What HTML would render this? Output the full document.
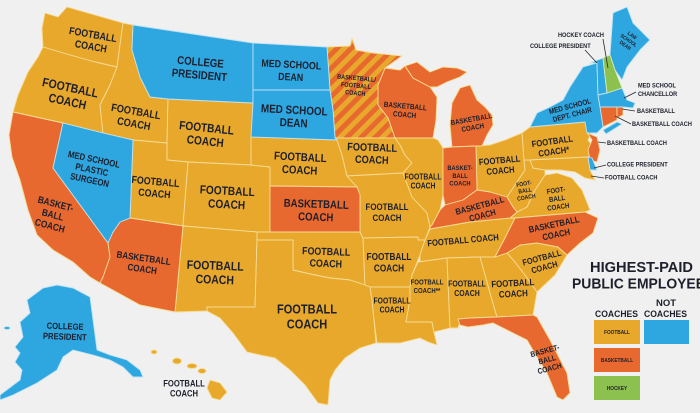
<!DOCTYPE html>
<html><head><meta charset="utf-8"><style>
html,body{margin:0;padding:0;background:#eff0ef;}
svg{display:block;}
text{font-family:"Liberation Sans",Arial,sans-serif;font-weight:bold;fill:#1d1f2c;}
</style></head><body>
<svg width="700" height="413" viewBox="0 0 700 413" xmlns="http://www.w3.org/2000/svg">
<defs>
<pattern id="st" width="10" height="10" patternUnits="userSpaceOnUse" patternTransform="rotate(45)">
<rect width="10" height="10" fill="#e8a82c"/><rect width="5" height="10" fill="#e8692f"/>
</pattern>
</defs>
<rect width="700" height="413" fill="#eff0ef"/>
<g stroke="#f6dc95" stroke-width="0.9" stroke-linejoin="round">
<!-- football yellow -->
<g fill="#e8a82c">
<polygon points="45,13 58,17 67,7 123,23 117,67 95,62 70,55 43,47 42,28"/>
<polygon points="43,47 70,55 95,62 117,67 110,85 100,105 103,133 63,123 13,112 18,95 28,72 38,57"/>
<polygon points="123,23 133,25 132,50 140,77 150,97 168,99 167,143 133,140 103,133 100,105 110,85 117,67"/>
<polygon points="168,99 253,103 251,165 188,162 167,160 167,143"/>
<polygon points="133,140 167,143 167,160 188,162 183,226 130,218"/>
<polygon points="188,162 251,165 270,167 270,186 270,232 257,232 183,226"/>
<polygon points="251,137 337,140 342,155 347,176 357,187 270,186 270,167 251,165"/>
<polygon points="183,226 257,232 257,240 255,307 207,307 207,311 175,312"/>
<polygon points="257,232 270,232 360,232 363,238 365,285 350,280 330,278 310,274 293,270 293,240 257,240"/>
<polygon points="257,240 293,240 293,270 310,274 330,278 350,280 365,285 370,287 372,300 374,320 376,343 360,348 345,358 335,370 330,380 328,405 318,403 305,385 290,370 275,358 260,355 247,352 233,333 220,318 207,311 207,307 255,307"/>
<polygon points="335,138 395,138 400,145 405,155 412,163 403,173 347,176 342,155 337,140"/>
<polygon points="347,176 403,173 412,197 427,213 430,227 425,240 418,240 418,237 363,238 360,232 360,195 357,187"/>
<polygon points="363,238 418,237 418,240 425,240 420,255 412,275 410,287 370,287 365,285"/>
<polygon points="370,287 410,287 410,300 406,322 432,322 434,332 437,345 428,342 420,338 400,343 377,343 374,320 372,300"/>
<polygon points="395,138 433,138 438,140 443,148 443,195 440,210 432,225 430,227 427,213 412,197 403,173 412,163 405,155 400,145"/>
<polygon points="476,146 490,145 505,140 522,133 524,160 525,170 515,185 507,197 490,192 477,190"/>
<polygon points="425,240 430,229 470,222 510,218 515,218 505,238 495,257 480,257 447,258 420,262 420,255"/>
<polygon points="418,262 447,258 450,328 434,332 432,322 406,322 410,300 410,287 412,275"/>
<polygon points="447,258 480,257 492,300 497,317 470,318 460,322 458,328 450,328"/>
<polygon points="480,257 495,257 507,253 515,262 525,275 537,292 533,315 497,317 492,300"/>
<polygon points="507,253 520,245 537,243 558,247 567,255 555,275 537,292 525,275 515,262"/>
<polygon points="510,218 517,212 527,207 535,190 545,175 557,173 572,178 582,190 590,210 585,212 515,218"/>
<polygon points="507,197 515,185 525,170 524,160 530,160 533,168 545,170 545,175 535,190 527,207 517,212 513,207"/>
<polygon points="522,133 530,127 585,122 592,132 588,140 595,150 588,157 530,160 524,160"/>
<polygon points="530,160 588,157 590,170 595,180 585,178 575,172 560,170 545,170 533,168"/>
<ellipse cx="154" cy="352" rx="3" ry="2"/>
<ellipse cx="177" cy="361" rx="4.5" ry="3"/>
<ellipse cx="192" cy="366" rx="5" ry="2.5"/>
<ellipse cx="202" cy="371" rx="4" ry="2.5"/>
<polygon points="210,380 220,383 227,392 220,400 212,398 207,388"/>
</g>
<!-- basketball orange -->
<g fill="#e8692f">
<polygon points="13,112 63,123 53,168 108,243 110,257 103,277 100,283 90,277 73,262 53,250 37,235 28,210 20,180 12,157 9,135"/>
<polygon points="130,218 183,226 175,312 140,305 100,283 103,277 110,257 108,243 113,232 120,222"/>
<polygon points="270,186 357,187 360,195 360,232 270,232"/>
<polygon points="385,68 400,70 405,66 413,78 430,87 437,97 436,120 433,138 395,138 388,118 378,105 378,85"/>
<polygon points="405,66 417,62 430,72 443,67 457,68 467,72 460,77 447,82 437,87 430,87 413,78"/>
<polygon points="452,103 460,88 470,85 477,100 485,107 492,115 493,125 487,135 482,146 476,146 452,147 450,125"/>
<polygon points="443,148 452,147 476,146 477,190 463,200 445,205 443,195"/>
<polygon points="430,227 432,225 440,210 445,205 463,200 477,190 490,192 507,197 513,207 517,212 510,218 470,222 430,229"/>
<polygon points="515,218 585,212 598,218 593,233 580,243 567,255 558,247 537,243 520,245 507,253 495,257 505,238"/>
<polygon points="458,319 470,318 497,317 533,315 537,317 550,340 567,373 570,393 563,400 557,397 547,373 537,357 527,340 513,333 493,323 483,325 468,327 460,325"/>
<polygon points="587,133 597,137 600,150 597,162 590,160 588,150 592,140 588,134"/>
<polygon points="600,107 617,107 617,120 603,127"/>
<polygon points="617,107 623,107 623,115 617,118"/>
</g>
<polygon fill="url(#st)" points="327,47 350,46 352,38 356,50 373,53 402,56 385,68 378,85 378,105 388,118 395,138 335,138 333,110 330,90"/>
<!-- blue -->
<g fill="#2ea6df" stroke="#bfe2f3">
<polygon points="133,25 253,43 253,103 168,99 150,97 140,77 132,50"/>
<polygon points="253,43 327,47 330,90 253,90"/>
<polygon points="253,90 330,90 333,110 335,138 337,140 251,137 253,103"/>
<polygon points="63,123 103,133 133,140 130,218 120,222 113,232 108,243 53,168"/>
<polygon points="530,127 537,113 550,107 563,100 570,87 583,67 597,63 598,95 600,107 603,127 597,133 587,133 585,122"/>
<polygon points="603,130 617,122 622,124 606,134"/>
<polygon points="590,63 603,58 607,93 598,95 597,63"/>
<polygon points="610,55 613,13 627,7 633,23 650,40 640,50 627,67 622,80 615,70"/>
<polygon points="598,95 607,93 622,88 627,100 635,103 633,108 623,107 600,107"/>
<polygon points="588,157 592,158 597,170 590,170"/>
<polygon points="27,300 43,288 57,285 73,288 90,297 97,350 110,355 127,360 140,370 143,377 133,377 123,367 110,360 93,355 73,350 63,357 57,370 37,383 13,395 0,400 0,395 20,380 22,370 15,362 20,353 15,347 23,337 20,322 30,313"/>
<ellipse cx="7" cy="328" rx="3" ry="1.5"/>
</g>
<polygon fill="#8cc04f" stroke="#d7ecc0" points="603,58 610,55 615,70 622,88 607,93"/>
</g>

<!-- state labels -->
<g transform="translate(92,40) rotate(10) scale(0.85,1)"><text font-size="10.4" text-anchor="middle"><tspan x="0" y="-2">FOOTBALL</tspan><tspan x="0" dy="12">COACH</tspan></text></g>
<g transform="translate(69,94) rotate(12) scale(0.85,1)"><text font-size="12.3" text-anchor="middle"><tspan x="0" y="-2.3">FOOTBALL</tspan><tspan x="0" dy="14">COACH</tspan></text></g>
<g transform="translate(200,68) rotate(5) scale(0.85,1)"><text font-size="11.4" text-anchor="middle"><tspan x="0" y="-2.2">COLLEGE</tspan><tspan x="0" dy="13">PRESIDENT</tspan></text></g>
<g transform="translate(291,70) rotate(3) scale(0.85,1)"><text font-size="10.4" text-anchor="middle"><tspan x="0" y="-2">MED SCHOOL</tspan><tspan x="0" dy="12.5">DEAN</tspan></text></g>
<g transform="translate(294,116) rotate(3) scale(0.85,1)"><text font-size="11.6" text-anchor="middle"><tspan x="0" y="-2.2">MED SCHOOL</tspan><tspan x="0" dy="13">DEAN</tspan></text></g>
<g transform="translate(135,117) rotate(10) scale(0.85,1)"><text font-size="10.8" text-anchor="middle"><tspan x="0" y="-2">FOOTBALL</tspan><tspan x="0" dy="12.4">COACH</tspan></text></g>
<g transform="translate(206,134) rotate(6) scale(0.85,1)"><text font-size="11.9" text-anchor="middle"><tspan x="0" y="-2.2">FOOTBALL</tspan><tspan x="0" dy="13.5">COACH</tspan></text></g>
<g transform="translate(92,169) rotate(12) scale(0.85,1)"><text font-size="9.2" text-anchor="middle"><tspan x="0" y="-6.8">MED SCHOOL</tspan><tspan x="0" dy="10.6">PLASTIC</tspan><tspan x="0" dy="10.6">SURGEON</tspan></text></g>
<g transform="translate(155,187) rotate(5) scale(0.85,1)"><text font-size="10.4" text-anchor="middle"><tspan x="0" y="-2">FOOTBALL</tspan><tspan x="0" dy="12">COACH</tspan></text></g>
<g transform="translate(227,197) rotate(3) scale(0.85,1)"><text font-size="11.9" text-anchor="middle"><tspan x="0" y="-2.2">FOOTBALL</tspan><tspan x="0" dy="13.5">COACH</tspan></text></g>
<g transform="translate(300,163) rotate(3) scale(0.85,1)"><text font-size="11.4" text-anchor="middle"><tspan x="0" y="-2.2">FOOTBALL</tspan><tspan x="0" dy="13">COACH</tspan></text></g>
<g transform="translate(316,210) rotate(2) scale(0.85,1)"><text font-size="11.3" text-anchor="middle"><tspan x="0" y="-2.2">BASKETBALL</tspan><tspan x="0" dy="13">COACH</tspan></text></g>
<g transform="translate(372,153) rotate(2) scale(0.85,1)"><text font-size="10.8" text-anchor="middle"><tspan x="0" y="-2">FOOTBALL</tspan><tspan x="0" dy="12.4">COACH</tspan></text></g>
<g transform="translate(387,212) scale(0.85,1)"><text font-size="9.3" text-anchor="middle"><tspan x="0" y="-1.8">FOOTBALL</tspan><tspan x="0" dy="10.7">COACH</tspan></text></g>
<g transform="translate(326,257) rotate(2) scale(0.85,1)"><text font-size="10.4" text-anchor="middle"><tspan x="0" y="-2">FOOTBALL</tspan><tspan x="0" dy="12">COACH</tspan></text></g>
<g transform="translate(389,262) scale(0.85,1)"><text font-size="9.7" text-anchor="middle"><tspan x="0" y="-1.8">FOOTBALL</tspan><tspan x="0" dy="11.2">COACH</tspan></text></g>
<g transform="translate(423,181) scale(0.85,1)"><text font-size="8" text-anchor="middle"><tspan x="0" y="-1.5">FOOTBALL</tspan><tspan x="0" dy="9.2">COACH</tspan></text></g>
<g transform="translate(460,175) scale(0.85,1)"><text font-size="6.8" text-anchor="middle"><tspan x="0" y="-5">BASKET-</tspan><tspan x="0" dy="7.8">BALL</tspan><tspan x="0" dy="7.8">COACH</tspan></text></g>
<g transform="translate(215,272) rotate(2) scale(0.85,1)"><text font-size="12.3" text-anchor="middle"><tspan x="0" y="-2.3">FOOTBALL</tspan><tspan x="0" dy="14">COACH</tspan></text></g>
<g transform="translate(307,316) scale(0.85,1)"><text font-size="13" text-anchor="middle"><tspan x="0" y="-2.5">FOOTBALL</tspan><tspan x="0" dy="15">COACH</tspan></text></g>
<g transform="translate(143,263) rotate(8) scale(0.85,1)"><text font-size="9.5" text-anchor="middle"><tspan x="0" y="-1.8">BASKETBALL</tspan><tspan x="0" dy="11">COACH</tspan></text></g>
<g transform="translate(53,214) rotate(15) scale(0.85,1)"><text font-size="9.8" text-anchor="middle"><tspan x="0" y="-7.2">BASKET-</tspan><tspan x="0" dy="11.3">BALL</tspan><tspan x="0" dy="11.3">COACH</tspan></text></g>
<g transform="translate(65,331) rotate(2) scale(0.85,1)"><text font-size="9" text-anchor="middle"><tspan x="0" y="-1.7">COLLEGE</tspan><tspan x="0" dy="10.4">PRESIDENT</tspan></text></g>
<g transform="translate(184,388) scale(0.85,1)"><text font-size="9" text-anchor="middle"><tspan x="0" y="-1.7">FOOTBALL</tspan><tspan x="0" dy="10.4">COACH</tspan></text></g>
<g transform="translate(392,305) scale(0.85,1)"><text font-size="8" text-anchor="middle"><tspan x="0" y="-1.5">FOOTBALL</tspan><tspan x="0" dy="9.2">COACH</tspan></text></g>
<g transform="translate(427,286) scale(0.85,1)"><text font-size="7.1" text-anchor="middle"><tspan x="0" y="-1.3">FOOTBALL</tspan><tspan x="0" dy="8.2">COACH**</tspan></text></g>
<g transform="translate(467,288) scale(0.85,1)"><text font-size="8.2" text-anchor="middle"><tspan x="0" y="-1.5">FOOTBALL</tspan><tspan x="0" dy="9.4">COACH</tspan></text></g>
<g transform="translate(513,288) rotate(-3) scale(0.85,1)"><text font-size="9.3" text-anchor="middle"><tspan x="0" y="-1.8">FOOTBALL</tspan><tspan x="0" dy="10.7">COACH</tspan></text></g>
<g transform="translate(543,262) rotate(-15) scale(0.85,1)"><text font-size="8.6" text-anchor="middle"><tspan x="0" y="-1.6">FOOTBALL</tspan><tspan x="0" dy="9.9">COACH</tspan></text></g>
<g transform="translate(555,229) rotate(-12) scale(0.85,1)"><text font-size="9" text-anchor="middle"><tspan x="0" y="-1.7">BASKETBALL</tspan><tspan x="0" dy="10.4">COACH</tspan></text></g>
<g transform="translate(463,240) rotate(-5) scale(0.85,1)"><text font-size="9" text-anchor="middle"><tspan x="0" y="3.2">FOOTBALL COACH</tspan></text></g>
<g transform="translate(481,210) rotate(-15) scale(0.85,1)"><text font-size="8.7" text-anchor="middle"><tspan x="0" y="-1.6">BASKETBALL</tspan><tspan x="0" dy="10">COACH</tspan></text></g>
<g transform="translate(500,165) rotate(-5) scale(0.85,1)"><text font-size="9" text-anchor="middle"><tspan x="0" y="-1.7">FOOTBALL</tspan><tspan x="0" dy="10.4">COACH</tspan></text></g>
<g transform="translate(553,146) rotate(-8) scale(0.85,1)"><text font-size="9" text-anchor="middle"><tspan x="0" y="-1.7">FOOTBALL</tspan><tspan x="0" dy="10.4">COACH*</tspan></text></g>
<g transform="translate(525,190) rotate(-10) scale(0.85,1)"><text font-size="6" text-anchor="middle"><tspan x="0" y="-4.4">FOOT-</tspan><tspan x="0" dy="6.9">BALL</tspan><tspan x="0" dy="6.9">COACH</tspan></text></g>
<g transform="translate(557,198) rotate(-8) scale(0.85,1)"><text font-size="7.2" text-anchor="middle"><tspan x="0" y="-5.3">FOOT-</tspan><tspan x="0" dy="8.3">BALL</tspan><tspan x="0" dy="8.3">COACH</tspan></text></g>
<g transform="translate(405,110) rotate(5) scale(0.85,1)"><text font-size="7.5" text-anchor="middle"><tspan x="0" y="-1.4">BASKETBALL</tspan><tspan x="0" dy="8.6">COACH</tspan></text></g>
<g transform="translate(472,123) rotate(-10) scale(0.85,1)"><text font-size="7.3" text-anchor="middle"><tspan x="0" y="-1.4">BASKETBALL</tspan><tspan x="0" dy="8.4">COACH</tspan></text></g>
<g transform="translate(356,85) rotate(5) scale(0.85,1)"><text font-size="6.5" text-anchor="middle"><tspan x="0" y="-4.8">BASKETBALL/</tspan><tspan x="0" dy="7.5">FOOTBALL</tspan><tspan x="0" dy="7.5">COACH</tspan></text></g>
<g transform="translate(571,110) rotate(-15) scale(0.85,1)"><text font-size="7.5" text-anchor="middle"><tspan x="0" y="-1.4">MED SCHOOL</tspan><tspan x="0" dy="8.6">DEPT. CHAIR</tspan></text></g>
<g transform="translate(547,359) rotate(-15) scale(0.85,1)"><text font-size="7.9" text-anchor="middle"><tspan x="0" y="-5.8">BASKET-</tspan><tspan x="0" dy="9.1">BALL</tspan><tspan x="0" dy="9.1">COACH</tspan></text></g>
<g transform="translate(629,40) rotate(35) scale(0.85,1)"><text font-size="5.2" text-anchor="middle"><tspan x="0" y="-3.8">LAW</tspan><tspan x="0" dy="6">SCHOOL</tspan><tspan x="0" dy="6">DEAN</tspan></text></g>

<!-- NE annotations -->
<g stroke="#2a2a33" stroke-width="0.8" fill="none">
<line x1="603" y1="39" x2="608" y2="68"/>
<line x1="585" y1="50" x2="597" y2="63"/>
<line x1="636" y1="92" x2="624" y2="98"/>
<line x1="635" y1="111" x2="622" y2="109"/>
<line x1="631" y1="124" x2="615" y2="116"/>
<line x1="606" y1="143" x2="598" y2="142"/>
<line x1="606" y1="165" x2="594" y2="168"/>
<line x1="604" y1="178" x2="591" y2="176"/>
</g>
<g font-size="6.6">
<g transform="translate(558,37) scale(0.85,1)"><text>HOCKEY COACH</text></g>
<g transform="translate(530,48) scale(0.85,1)"><text>COLLEGE PRESIDENT</text></g>
<g transform="translate(638,87.5) scale(0.85,1)"><text>MED SCHOOL</text></g>
<g transform="translate(638,96) scale(0.85,1)"><text>CHANCELLOR</text></g>
<g transform="translate(637,113) scale(0.85,1)"><text>BASKETBALL</text></g>
<g transform="translate(632,126) scale(0.85,1)"><text>BASKETBALL COACH</text></g>
<g transform="translate(607,145) scale(0.85,1)"><text>BASKETBALL COACH</text></g>
<g transform="translate(607,166.5) scale(0.85,1)"><text>COLLEGE PRESIDENT</text></g>
<g transform="translate(605,179.5) scale(0.85,1)"><text>FOOTBALL COACH</text></g>
</g>

<!-- legend -->
<text x="590" y="272" font-size="14.5" textLength="103" lengthAdjust="spacingAndGlyphs">HIGHEST-PAID</text>
<text x="572" y="288.5" font-size="14.5" textLength="133" lengthAdjust="spacingAndGlyphs">PUBLIC EMPLOYEE</text>
<text x="656" y="306" font-size="9" textLength="20" lengthAdjust="spacingAndGlyphs">NOT</text>
<text x="595" y="317" font-size="9" textLength="43" lengthAdjust="spacingAndGlyphs">COACHES</text>
<text x="644" y="317" font-size="9" textLength="43" lengthAdjust="spacingAndGlyphs">COACHES</text>
<rect x="594" y="320" width="46" height="24" fill="#e8a82c"/>
<rect x="644" y="320" width="45" height="24" fill="#2ea6df"/>
<rect x="594" y="348" width="46" height="24" fill="#e8692f"/>
<rect x="594" y="376" width="46" height="24" fill="#8cc04f"/>
<g transform="translate(617,334) scale(0.85,1)"><text font-size="5.6" text-anchor="middle">FOOTBALL</text></g>
<g transform="translate(617,362) scale(0.85,1)"><text font-size="5.6" text-anchor="middle">BASKETBALL</text></g>
<g transform="translate(617,390) scale(0.85,1)"><text font-size="5.6" text-anchor="middle">HOCKEY</text></g>
</svg>
</body></html>
